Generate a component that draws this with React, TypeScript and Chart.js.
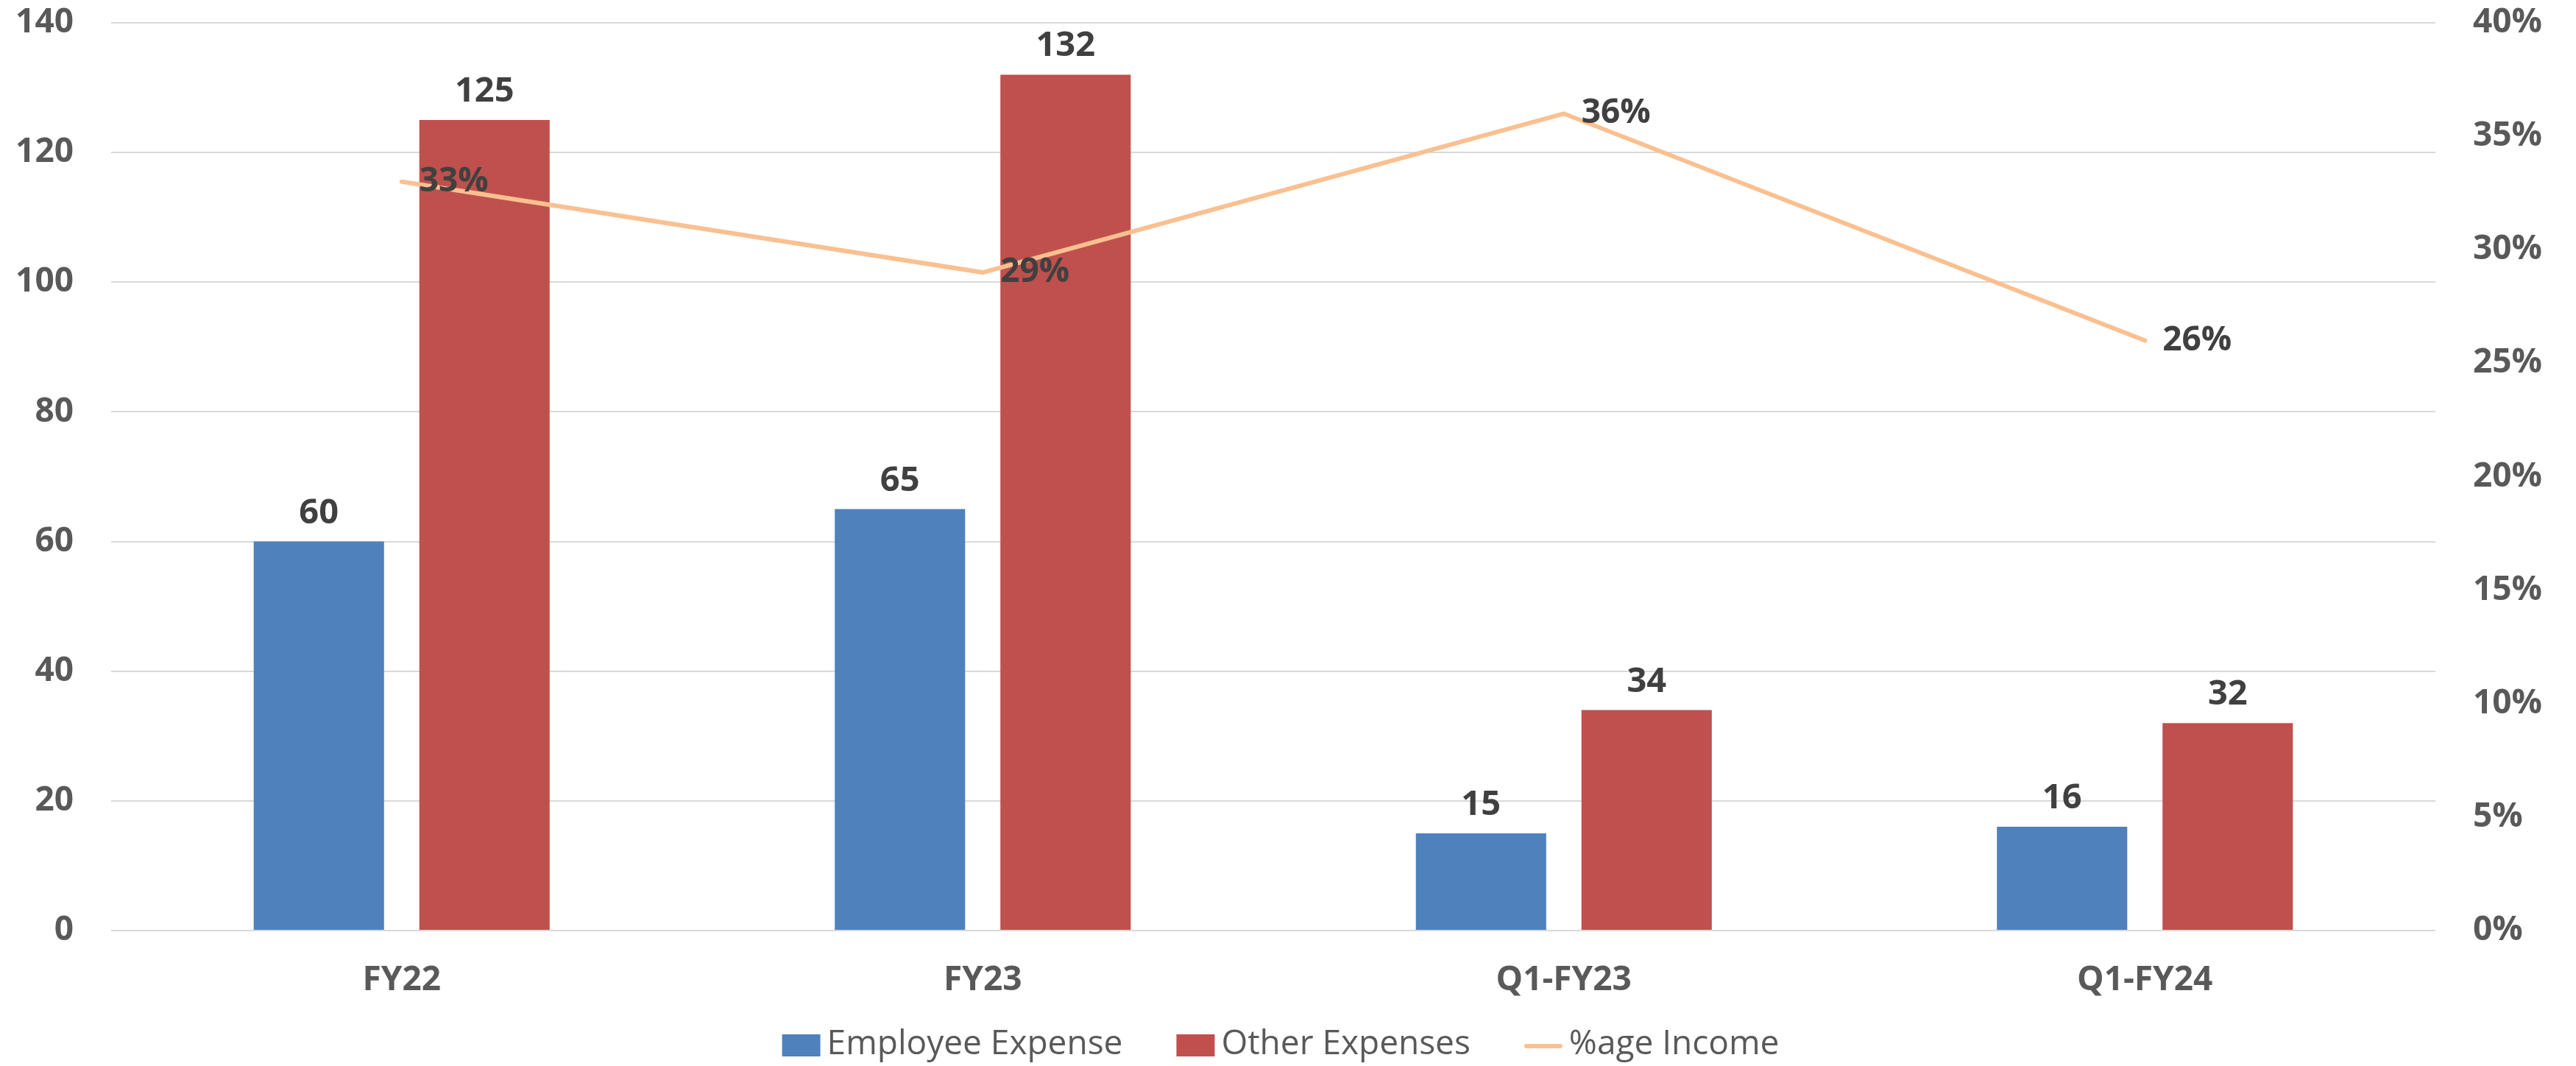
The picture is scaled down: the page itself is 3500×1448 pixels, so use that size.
import React, { useEffect, useRef } from "react";
import { Chart, registerables } from "chart.js";

Chart.register(...registerables);

const categories = ["FY22", "FY23", "Q1-FY23", "Q1-FY24"];
const employeeExpense = [60, 65, 15, 16];
const otherExpenses = [125, 132, 34, 32];
const ageIncome = [0.33, 0.29, 0.36, 0.26];
const seriesNames = ["Employee Expense", "Other Expenses", "%age Income"];
const seriesColors = ["#4F81BD", "#C0504D", "#FAC090"];

const FONT = "'Open Sans', 'DejaVu Sans', sans-serif";

const valueLabelsPlugin = {
  id: "valueLabels",
  afterDatasetsDraw(chart: any) {
    const ctx = chart.ctx;
    ctx.save();
    ctx.fillStyle = "#404040";
    ctx.font = `bold 47px ${FONT}`;
    // bar labels
    [0, 1].forEach((di) => {
      const meta = chart.getDatasetMeta(di);
      const data = chart.data.datasets[di].data;
      meta.data.forEach((el: any, j: number) => {
        ctx.textAlign = "center";
        ctx.textBaseline = "alphabetic";
        ctx.fillText(String(data[j]), el.x, el.y - 25);
      });
    });
    // line labels
    const lm = chart.getDatasetMeta(2);
    const ld = chart.data.datasets[2].data;
    ctx.font = `bold 46px ${FONT}`;
    lm.data.forEach((el: any, j: number) => {
      ctx.textAlign = "left";
      ctx.textBaseline = "middle";
      ctx.fillText(Math.round(ld[j] * 100) + "%", el.x + 24, el.y);
    });
    ctx.restore();
  },
};

const legendPlugin = {
  id: "customLegend",
  afterDraw(chart: any) {
    const ctx = chart.ctx;
    const area = chart.chartArea;
    ctx.save();
    ctx.font = `46px ${FONT}`;
    const boxW = 52;
    const boxH = 30;
    const gapBoxText = 9;
    const gapItems = 73;
    const widths = seriesNames.map((n) => ctx.measureText(n).width);
    const total =
      widths.reduce((a, w) => a + boxW + gapBoxText + w, 0) +
      gapItems * (seriesNames.length - 1);
    const centerX = (area.left + area.right) / 2 + 10;
    const cy = 1420;
    let x = centerX - total / 2;
    seriesNames.forEach((name, i) => {
      if (i < 2) {
        ctx.fillStyle = seriesColors[i];
        ctx.fillRect(x, cy - boxH / 2, boxW, boxH);
      } else {
        ctx.strokeStyle = seriesColors[i];
        ctx.lineWidth = 6;
        ctx.lineCap = "round";
        ctx.beginPath();
        ctx.moveTo(x + 3, cy + 1);
        ctx.lineTo(x + boxW - 3, cy + 1);
        ctx.stroke();
      }
      ctx.fillStyle = "#595959";
      ctx.textAlign = "left";
      ctx.textBaseline = "middle";
      ctx.fillText(name, x + boxW + gapBoxText, cy - 1);
      x += boxW + gapBoxText + widths[i] + gapItems;
    });
    ctx.restore();
  },
};

export default function App() {
  const ref = useRef<HTMLCanvasElement>(null);

  useEffect(() => {
    if (!ref.current) return;
    const tickFont = { family: FONT, size: 46, weight: "bold" as const };
    const chart = new Chart(ref.current, {
      type: "bar",
      data: {
        labels: categories,
        datasets: [
          {
            type: "bar",
            label: seriesNames[0],
            data: employeeExpense,
            backgroundColor: seriesColors[0],
            borderWidth: 0,
            yAxisID: "y",
            order: 1,
            categoryPercentage: 0.57,
            barPercentage: 0.787,
          },
          {
            type: "bar",
            label: seriesNames[1],
            data: otherExpenses,
            backgroundColor: seriesColors[1],
            borderWidth: 0,
            yAxisID: "y",
            order: 1,
            categoryPercentage: 0.57,
            barPercentage: 0.787,
          },
          {
            type: "line",
            label: seriesNames[2],
            data: ageIncome,
            borderColor: seriesColors[2],
            backgroundColor: seriesColors[2],
            borderWidth: 6,
            pointRadius: 0,
            tension: 0,
            yAxisID: "y1",
            order: 0,
            borderCapStyle: "round",
            borderJoinStyle: "miter",
          } as any,
        ],
      },
      options: {
        responsive: false,
        animation: false,
        devicePixelRatio: 1,
        layout: { padding: { top: 31, left: 0, right: 0, bottom: 0 } },
        plugins: {
          legend: { display: false },
          tooltip: { enabled: false },
        },
        scales: {
          x: {
            grid: { display: false, drawTicks: false },
            border: { display: false },
            ticks: { font: tickFont, color: "#595959", padding: 40 },
            afterFit: (scale: any) => {
              scale.height = 184;
              scale.paddingLeft = 0;
              scale.paddingRight = 0;
            },
          },
          y: {
            position: "left",
            min: 0,
            max: 140,
            ticks: {
              stepSize: 20,
              font: tickFont,
              color: "#595959",
              padding: 51,
            },
            grid: { color: "#D9D9D9", lineWidth: 2, drawTicks: false },
            border: { display: false },
            afterFit: (scale: any) => {
              scale.width = 151;
              scale.paddingTop = 0;
              scale.paddingBottom = 0;
            },
          },
          y1: {
            position: "right",
            min: 0,
            max: 0.4,
            ticks: {
              stepSize: 0.05,
              font: tickFont,
              color: "#595959",
              padding: 51,
              callback: (v: any) => Math.round(Number(v) * 100) + "%",
            },
            grid: { display: false, drawTicks: false },
            border: { display: false },
            afterFit: (scale: any) => {
              scale.width = 191;
              scale.paddingTop = 0;
              scale.paddingBottom = 0;
            },
          },
        },
      },
      plugins: [valueLabelsPlugin, legendPlugin],
    });
    return () => chart.destroy();
  }, []);

  return (
    <div
      style={{
        position: "absolute",
        left: 0,
        top: 0,
        width: 3500,
        height: 1448,
        background: "#ffffff",
      }}
    >
      <canvas
        ref={ref}
        width={3500}
        height={1448}
        style={{ display: "block", width: 3500, height: 1448 }}
      />
    </div>
  );
}
